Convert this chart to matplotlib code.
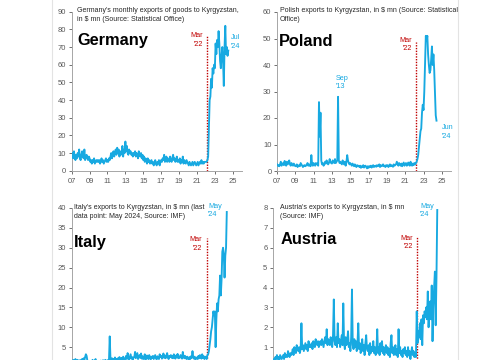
import numpy as np
import matplotlib.pyplot as plt
from matplotlib.lines import Line2D

plt.rcParams['font.family'] = ['Liberation Sans', 'DejaVu Sans']

# monthly values, one list per year, starting Jan 2007
germany = [
    [9, 10, 7, 11, 8, 6, 9, 7, 10, 8, 12, 7],
    [6, 9, 11, 8, 7, 12, 6, 8, 9, 7, 6, 8],
    [7, 5, 6, 4, 6, 5, 7, 4, 5, 6, 5, 6],
    [5, 6, 4, 5, 7, 5, 6, 4, 5, 6, 7, 5],
    [6, 5, 7, 6, 8, 10, 7, 9, 11, 8, 10, 12],
    [9, 13, 10, 12, 8, 11, 9, 10, 14, 8, 12, 10],
    [16.5, 11, 14, 10, 9, 12, 10, 11, 9, 10, 8, 10],
    [9, 11, 8, 10, 9, 7, 11, 9, 8, 10, 7, 9],
    [6, 8, 5, 7, 6, 4, 7, 5, 6, 4, 5, 6],
    [4, 5, 3, 4, 6, 4, 3, 5, 4, 6, 3, 5],
    [6, 5, 7, 6, 9, 5, 6, 8, 5, 7, 6, 5],
    [8, 6, 5, 7, 9, 6, 7, 5, 6, 8, 5, 6],
    [5, 7, 4, 6, 5, 8, 4, 6, 5, 4, 6, 5],
    [4, 3, 5, 4, 3, 4, 5, 3, 4, 5, 4, 3],
    [4, 5, 3, 4, 5, 4, 6, 4, 5, 4, 5, 5],
    [5, 5, 6, 8, 25, 40, 42, 52, 47, 58, 55, 60],
    [58, 72, 66, 74, 70, 79, 72, 62, 58, 65, 70, 62],
    [48, 70, 82, 66, 70, 65, 68],
]

poland = [
    [2.5, 2, 2.2, 1.8, 2.5, 3.5, 2, 2.5, 3, 2.2, 3.8, 2.5],
    [2, 3.5, 2.5, 3, 4, 2.5, 2, 3, 2.5, 2, 2.8, 2.2],
    [1.8, 2, 2.5, 1.5, 2, 2.2, 1.8, 3, 2.5, 2, 1.5, 2],
    [2.2, 1.8, 2, 2.5, 3, 2, 2.5, 2, 1.8, 6, 2.5, 2],
    [3, 2.5, 2, 3, 2.5, 2.8, 2, 26, 13, 22, 4, 2.5],
    [3, 2, 2.5, 3.5, 2.8, 4, 3, 2.5, 3, 4.5, 3.5, 3],
    [2.8, 4, 3.5, 3, 4.5, 3, 3.5, 4, 28, 4, 3, 3.5],
    [3, 2.5, 4, 3, 2.5, 3.5, 2, 3.5, 6, 4, 3, 2.5],
    [3, 2.5, 2, 2.8, 2.2, 1.8, 2.5, 2, 1.5, 2.2, 1.8, 2],
    [1.5, 2, 1.2, 1.8, 1.5, 2.2, 1.3, 1.8, 2, 1.5, 1, 1.8],
    [1.2, 1.8, 1.5, 2, 1.3, 1.7, 2.2, 1.5, 1.8, 2, 1.6, 2.2],
    [1.8, 2, 2.5, 1.5, 2.2, 1.8, 2, 2.5, 1.8, 2, 1.5, 2.2],
    [1.8, 2.2, 1.5, 2, 2.5, 1.8, 2.2, 2, 1.6, 2.5, 2, 2.3],
    [2.5, 3.5, 2.8, 2, 3, 2.5, 2, 2.8, 1.8, 2.5, 3.2, 2],
    [2.5, 3, 2, 2.2, 3.2, 2.5, 2, 3.5, 2.5, 2, 2.8, 2.2],
    [3, 2.5, 3, 3.5, 4.5, 6, 9, 12, 15, 16, 22, 25],
    [23, 30, 40, 51, 49, 51, 44, 40, 37, 38, 42, 47],
    [40, 44, 38, 30, 21, 19],
]

italy = [
    [1.5, 1.2, 1.8, 1.0, 1.5, 2.0, 1.3, 1.6, 1.8, 1.2, 1.5, 1.7],
    [1.4, 1.8, 2.0, 1.5, 2.2, 1.8, 2.5, 3.2, 2.8, 1.6, 1.3, 1.5],
    [1.2, 1.0, 1.5, 1.3, 1.8, 1.1, 1.4, 1.6, 2.0, 1.2, 1.5, 1.3],
    [1.0, 1.4, 1.2, 1.6, 1.3, 1.1, 1.7, 1.5, 1.2, 1.8, 1.4, 1.6],
    [1.5, 1.8, 1.6, 7.7, 2.0, 1.5, 2.2, 1.8, 2.0, 1.6, 2.4, 1.9],
    [2.0, 1.5, 2.2, 1.8, 2.5, 2.0, 1.7, 2.3, 1.9, 2.6, 2.1, 1.8],
    [2.2, 2.8, 2.0, 3.5, 2.4, 1.9, 2.6, 3.2, 2.1, 2.5, 1.8, 2.4],
    [2.5, 3.8, 2.2, 2.9, 3.5, 2.0, 2.6, 3.0, 2.3, 3.4, 2.1, 2.7],
    [2.0, 2.4, 3.2, 1.8, 2.5, 2.9, 2.2, 2.0, 3.0, 2.4, 1.9, 2.6],
    [2.3, 2.8, 2.0, 2.5, 3.0, 2.2, 1.9, 2.7, 2.4, 2.0, 3.2, 2.5],
    [2.8, 2.1, 2.6, 3.4, 2.3, 2.9, 2.2, 2.7, 3.5, 2.4, 2.0, 2.8],
    [2.5, 3.0, 2.3, 2.8, 2.2, 3.2, 2.6, 2.1, 2.9, 2.4, 3.3, 2.2],
    [2.6, 2.3, 3.0, 2.7, 2.1, 3.8, 2.5, 2.2, 2.8, 2.4, 2.0, 2.6],
    [2.2, 1.8, 2.5, 2.0, 2.7, 2.3, 4.0, 2.4, 2.1, 2.6, 1.9, 2.3],
    [2.4, 2.0, 2.8, 2.2, 3.0, 2.5, 2.1, 3.2, 2.3, 2.7, 2.0, 2.6],
    [2.5, 2.0, 3.0, 3.2, 4.0, 5.5, 7, 9, 10, 12, 14, 13],
    [14, 5, 12, 16, 14, 17, 18, 23, 18, 22, 29, 30],
    [28, 22.5, 28, 30, 39],
]

austria = [
    [0.3, 0.4, 0.3, 0.5, 0.4, 0.6, 0.4, 0.5, 0.3, 0.6, 0.5, 0.4],
    [0.5, 0.6, 0.4, 0.7, 0.5, 0.6, 0.5, 0.8, 0.6, 0.5, 0.7, 0.6],
    [0.7, 0.9, 0.6, 1.0, 0.8, 0.7, 1.1, 0.9, 0.8, 1.0, 0.7, 0.9],
    [2.2, 0.9, 1.1, 0.8, 1.0, 1.2, 0.9, 1.1, 0.8, 1.3, 1.0, 1.1],
    [1.0, 1.2, 0.9, 1.3, 1.1, 1.0, 1.4, 1.2, 1.1, 1.3, 1.0, 1.2],
    [1.3, 1.1, 1.4, 1.2, 1.0, 1.3, 1.5, 1.2, 1.9, 1.1, 1.4, 1.3],
    [1.1, 1.5, 1.2, 1.0, 1.6, 3.4, 1.3, 1.1, 1.5, 1.0, 2.2, 1.2],
    [1.4, 1.0, 1.3, 1.6, 1.1, 3.2, 1.2, 0.9, 1.5, 1.1, 1.3, 1.8],
    [1.0, 1.2, 0.8, 1.5, 3.9, 1.1, 0.9, 1.4, 1.0, 1.3, 0.8, 1.2],
    [2.2, 0.9, 1.2, 0.7, 1.0, 1.4, 0.8, 1.1, 0.6, 1.2, 1.6, 0.9],
    [0.8, 1.1, 0.6, 1.2, 0.7, 1.0, 0.8, 1.3, 0.7, 1.0, 0.6, 0.9],
    [1.9, 0.7, 1.0, 0.6, 1.2, 0.8, 1.3, 0.7, 1.0, 0.6, 0.9, 1.1],
    [0.7, 1.0, 0.6, 0.9, 0.5, 1.2, 1.6, 0.7, 1.0, 0.6, 0.8, 1.1],
    [0.6, 0.9, 0.5, 1.9, 0.7, 1.0, 0.6, 0.8, 0.5, 0.9, 0.7, 1.0],
    [0.6, 0.8, 0.5, 1.0, 0.6, 0.8, 0.4, 0.7, 1.0, 0.6, 0.8, 0.5],
    [0.7, 0.5, 2.8, 1.2, 1.8, 1.5, 2.2, 1.4, 2.4, 1.1, 2.6, 2.2],
    [2.8, 2.5, 3.0, 2.4, 3.8, 2.0, 2.9, 3.3, 2.4, 4.1, 1.3, 3.0],
    [4.0, 4.8, 2.1, 4.5, 7.9],
]

year_ticks = list(range(2007, 2026, 2))
year_labels = ['%02d' % (y % 100) for y in year_ticks]
mar22 = 2022 + 2 / 12

BLUE = '#17a9e1'
RED = '#c00000'
GREY = '#595959'
W, H = 500, 360


def fx(px):
    return px / W


def fy(py):
    return 1 - py / H


def draw_panel(fig, rect, data, ylim, ystep, xmax, redtop, title, title_xy, sub, sub_xy,
               cut=False):
    ax = fig.add_axes(rect)
    vals = [v for year in data for v in year]
    x = 2007 + np.arange(len(vals)) / 12
    ax.plot(x, vals, color=BLUE, lw=1.35, zorder=3)
    ax.plot([mar22, mar22], [0, redtop], color=RED, ls=(0, (1, 1)), lw=1.0, zorder=2)
    ax.set_xlim(2007, xmax)
    ax.set_ylim(0, ylim)
    yt = np.arange(0, ylim + 0.01, ystep)
    ax.set_yticks(yt)
    ax.set_xticks(year_ticks)
    if cut:
        # lower row is cropped in the screenshot: the x labels and the 0 fall off the edge
        ax.set_xticklabels([])
        ax.set_yticklabels([''] + ['%g' % v for v in yt[1:]])
    else:
        ax.set_xticklabels(year_labels)
    for s in ['top', 'right']:
        ax.spines[s].set_visible(False)
    for s in ['left', 'bottom']:
        ax.spines[s].set_color('#a6a6a6')
        ax.spines[s].set_linewidth(0.7)
    ax.tick_params(labelsize=5.5, colors=GREY, length=2, width=0.6, pad=2)
    ax.tick_params(axis='x', pad=3)
    ax.patch.set_alpha(0)
    fig.text(fx(title_xy[0]), fy(title_xy[1]), title, fontsize=11.8, fontweight='bold',
             ha='left', va='baseline', color='black')
    fig.text(fx(sub_xy[0]), fy(sub_xy[1]), sub, fontsize=5.0, color='#262626',
             ha='left', va='top', linespacing=1.35)
    return ax


def note(fig, px, py, txt, color, ha='left'):
    fig.text(fx(px), fy(py), txt, fontsize=5.2, color=color, ha=ha, va='top',
             linespacing=1.3)


fig = plt.figure(figsize=(5, 3.6), dpi=100)

draw_panel(fig, [fx(71.7), fy(170.7), 170 / W, 159 / H], germany, 90, 10, 2026.0, 77,
           'Germany', (77, 45),
           "Germany's monthly exports of goods to Kyrgyzstan,\nin $ mn (Source: Statistical Office)",
           (77, 7))
draw_panel(fig, [fx(277), fy(171), 174 / W, 159 / H], poland, 60, 10, 2026.0, 48.8,
           'Poland', (279, 45.5),
           "Polish exports to Kyrgyzstan, in $ mn (Source: Statistical\nOffice)",
           (280, 7))
draw_panel(fig, [fx(71.7), fy(367), 170 / W, 159 / H], italy, 40, 5, 2026.0, 32.4,
           'Italy', (74, 246.5),
           "Italy's exports to Kyrgyzstan, in $ mn (last\ndata point: May 2024, Source: IMF)",
           (74, 204), cut=True)
draw_panel(fig, [fx(273), fy(367), 181 / W, 159 / H], austria, 8, 1, 2026.1, 6.55,
           'Austria', (281, 244),
           "Austria's exports to Kyrgyzstan, in $ mn\n(Source: IMF)",
           (280, 204), cut=True)

note(fig, 203, 32, "Mar\n'22", RED, ha='right')
note(fig, 231, 34, "Jul\n'24", BLUE)
note(fig, 412, 37, "Mar\n'22", RED, ha='right')
note(fig, 336, 75, "Sep\n'13", BLUE)
note(fig, 442, 124, "Jun\n'24", BLUE)
note(fig, 202, 236, "Mar\n'22", RED, ha='right')
note(fig, 208, 203, "May\n'24", BLUE)
note(fig, 413, 235, "Mar\n'22", RED, ha='right')
note(fig, 420, 203, "May\n'24", BLUE)

# thin frame of the screenshot
for px in [52, 458]:
    fig.add_artist(Line2D([fx(px), fx(px)], [0, 1], color='#e3e3e3', lw=0.8))

fig.savefig('out.png', dpi=100)
